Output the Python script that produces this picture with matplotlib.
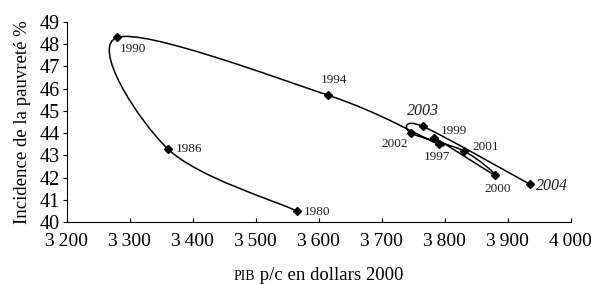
import numpy as np
import matplotlib
matplotlib.use("Agg")
import matplotlib.pyplot as plt
from matplotlib.path import Path
from matplotlib.patches import PathPatch

plt.rcParams['font.family'] = ['Liberation Serif', 'DejaVu Serif']

# Données : PIB par habitant (dollars 2000) et incidence de la pauvreté (%)
years = ["1980", "1986", "1990", "1994", "1997", "1999", "2000", "2001", "2002", "2003", "2004"]
pib = [3565, 3360, 3280, 3615, 3790, 3783, 3880, 3830, 3746, 3765, 3935]
pauvrete = [40.5, 43.3, 48.3, 45.7, 43.5, 43.8, 42.1, 43.2, 44.0, 44.3, 41.7]
italic_years = ["2003", "2004"]

# position des étiquettes (décalage en points, alignement)
label_pos = {
    "1980": ((5, -1), "left", "center"),
    "1986": ((6, 0), "left", "center"),
    "1990": ((2, -8), "left", "center"),
    "1994": ((4, 11), "center", "center"),
    "1997": ((-1, -9), "center", "center"),
    "1999": ((5, 5), "left", "center"),
    "2000": ((2, -10), "center", "center"),
    "2001": ((6, 3), "left", "center"),
    "2002": ((-2, -8), "right", "center"),
    "2003": ((0, 11), "center", "center"),
    "2004": ((4, -1), "left", "center"),
}

fig = plt.figure(figsize=(5.91, 2.84), dpi=100)
ax = fig.add_axes([0.113, 0.218, 0.853, 0.705])
ax.set_xlim(3200, 4000)
ax.set_ylim(40, 49)

# courbe lissée (Bézier type Excel) calculée dans l'espace écran
pts = ax.transData.transform(np.column_stack([pib, pauvrete]))
n = len(pts)
verts = [pts[0]]
codes = [Path.MOVETO]
for i in range(n - 1):
    p0 = pts[max(i - 1, 0)]
    p1 = pts[i]
    p2 = pts[i + 1]
    p3 = pts[min(i + 2, n - 1)]
    c1 = p1 + (p2 - p0) / 6.0
    c2 = p2 - (p3 - p1) / 6.0
    verts += [c1, c2, p2]
    codes += [Path.CURVE4] * 3
verts = ax.transData.inverted().transform(np.array(verts))
ax.add_patch(PathPatch(Path(verts, codes), facecolor="none", edgecolor="black", lw=1.1))

ax.plot(pib, pauvrete, linestyle="none", marker="D", markersize=4.5, color="black")

for x, y, yr in zip(pib, pauvrete, years):
    off, ha, va = label_pos[yr]
    if yr in italic_years:
        ax.annotate(yr, (x, y), xytext=off, textcoords="offset points",
                    ha=ha, va=va, fontsize=11.5, style="italic", color="#222222")
    else:
        ax.annotate(yr, (x, y), xytext=off, textcoords="offset points",
                    ha=ha, va=va, fontsize=9.5, color="#222222")

ax.spines["top"].set_visible(False)
ax.spines["right"].set_visible(False)
ax.set_xticks(range(3200, 4001, 100))
ax.set_xticklabels([f"{v:,}".replace(",", "\u2009") for v in range(3200, 4001, 100)])
ax.set_yticks(range(40, 50))
ax.tick_params(axis="x", direction="in", length=3, labelsize=14, pad=8)
ax.tick_params(axis="y", direction="out", length=3, labelsize=14.5, pad=2)

ax.set_ylabel("Incidence de la pauvreté %", fontsize=13.5, labelpad=6)

# titre de l'axe x : « PIB » en petites capitales
renderer = fig.canvas.get_renderer()
t1 = fig.text(0, 0, "PIB", fontsize=10, va="baseline")
t2 = fig.text(0, 0, " p/c en dollars 2000", fontsize=13.5, va="baseline")
w1 = t1.get_window_extent(renderer).width
w2 = t2.get_window_extent(renderer).width
x0 = 318 - (w1 + w2) / 2
base = 284 - 280
t1.set_position((x0 / 591, base / 284))
t2.set_position(((x0 + w1) / 591, base / 284))

fig.savefig("out.png", dpi=100)
